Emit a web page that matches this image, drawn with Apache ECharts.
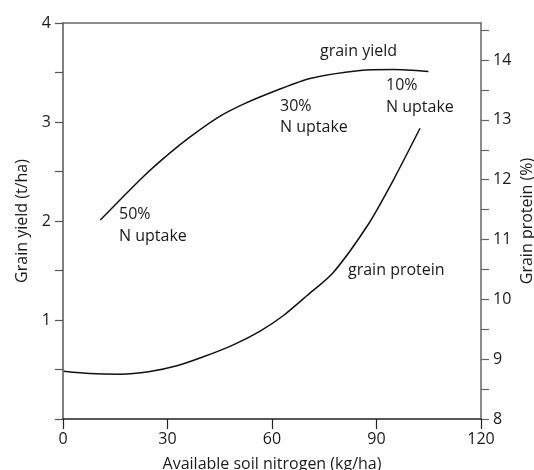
<!DOCTYPE html>
<html>
<head>
<meta charset="utf-8">
<script src="https://cdn.jsdelivr.net/npm/echarts@6/dist/echarts.min.js"></script>
<style>
  html, body { margin: 0; padding: 0; background: #fff; }
  #chart { width: 534px; height: 470px; }
</style>
</head>
<body>
<div id="chart"></div>
<script>
  // grain yield curve (left axis, t/ha)
  var yieldN = [10.7, 23.1, 30.8, 36.5, 44.2, 51.8, 61.4, 70.9, 85.3, 94.8, 104.9];
  var yieldT = [2.01, 2.45, 2.69, 2.85, 3.04, 3.18, 3.32, 3.44, 3.52, 3.53, 3.51];
  // grain protein curve (right axis, %)
  var protN = [0.2, 7.8, 16.4, 24.6, 32.7, 40.3, 48.9, 56.6, 63.3, 70.0, 77.6, 87.7, 94.8, 102.5];
  var protP = [8.80, 8.76, 8.75, 8.79, 8.89, 9.04, 9.24, 9.47, 9.73, 10.06, 10.45, 11.26, 11.99, 12.86];

  // axis ranges / tick steps
  var xRange = [0, 120], xStep = 30;
  var leftRange = [0, 4], rightRange = [8, 14.62], yStep = 0.5;
  var rightTicks = [8, 8.5, 9, 9.5, 10, 10.5, 11, 11.5, 12, 12.5, 13, 13.5, 14, 14.5];
  var rightLabels = [8, 9, 10, 11, 12, 13, 14];

  function pairs(xs, ys) {
    return xs.map(function (x, i) { return [x, ys[i]]; });
  }
  // only whole numbers get a label, half steps are tick only
  function wholeOnly(skipZero) {
    return function (v) {
      if (Math.abs(v - Math.round(v)) > 1e-6) return '';
      if (skipZero && v === 0) return '';
      return String(Math.round(v));
    };
  }

  var font = '"Open Sans", "Noto Sans", sans-serif';
  var tickTxt = { fontFamily: font, fontSize: 16, color: '#1a1a1a' };
  var nameTxt = { fontFamily: font, fontSize: 16, color: '#1a1a1a' };

  function note(x, y, s) {
    return { type: 'text', x: x, y: y, style: { text: s, textVerticalAlign: 'middle', fill: '#1a1a1a', font: '16px ' + font } };
  }

  var myChart = echarts.init(document.getElementById('chart'));
  var option = {
    animation: false,
    grid: { left: 63, right: 53, top: 23, bottom: 51, outerBoundsMode: 'none', containLabel: false },
    xAxis: [
      {
        type: 'value', min: xRange[0], max: xRange[1], interval: xStep, position: 'bottom',
        name: 'Available soil nitrogen (kg/ha)', nameLocation: 'middle', nameGap: 37,
        nameTextStyle: nameTxt,
        axisLine: { onZero: false, lineStyle: { color: '#222', width: 1.5 } },
        axisTick: { inside: false, length: 10, lineStyle: { color: '#222', width: 1.2 } },
        axisLabel: Object.assign({ margin: 12 }, tickTxt),
        splitLine: { show: false }
      },
      {
        type: 'value', min: xRange[0], max: xRange[1], position: 'top',
        axisLine: { onZero: false, lineStyle: { color: '#666', width: 1.5 } },
        axisTick: { show: false }, axisLabel: { show: false }, splitLine: { show: false }
      }
    ],
    yAxis: [
      {
        type: 'value', min: leftRange[0], max: leftRange[1], interval: yStep, position: 'left',
        name: 'Grain yield (t/ha)', nameLocation: 'middle', nameGap: 33,
        nameTextStyle: nameTxt,
        axisLine: { show: true, onZero: false, lineStyle: { color: '#555', width: 1.5 } },
        axisTick: { show: true, inside: false, length: 8, lineStyle: { color: '#555', width: 1.2 } },
        axisLabel: Object.assign({ margin: 12, formatter: wholeOnly(true) }, tickTxt),
        splitLine: { show: false }
      },
      {
        type: 'value', min: rightRange[0], max: rightRange[1], position: 'right', alignTicks: false,
        name: 'Grain protein (%)', nameLocation: 'middle', nameGap: 38, nameMoveOverlap: false,
        nameTextStyle: nameTxt,
        axisLine: { show: true, onZero: false, lineStyle: { color: '#666', width: 1.5 } },
        axisTick: { show: true, inside: false, length: 8, customValues: rightTicks, lineStyle: { color: '#666', width: 1.2 } },
        axisLabel: Object.assign({ margin: 12, customValues: rightLabels }, tickTxt),
        splitLine: { show: false }
      }
    ],
    series: [
      {
        name: 'grain yield', type: 'line', yAxisIndex: 0, xAxisIndex: 0,
        data: pairs(yieldN, yieldT), smooth: 0.25, symbol: 'none',
        lineStyle: { color: '#111', width: 1.5 }
      },
      {
        name: 'grain protein', type: 'line', yAxisIndex: 1, xAxisIndex: 0,
        data: pairs(protN, protP), smooth: 0.25, symbol: 'none',
        lineStyle: { color: '#111', width: 1.5 }
      }
    ],
    graphic: [
      note(320, 51, 'grain yield'),
      note(386, 85, '10%'),
      note(386, 107, 'N uptake'),
      note(280, 106, '30%'),
      note(280, 127, 'N uptake'),
      note(119, 214, '50%'),
      note(119, 236, 'N uptake'),
      note(348, 270, 'grain protein')
    ]
  };
  myChart.setOption(option);
</script>
</body>
</html>
